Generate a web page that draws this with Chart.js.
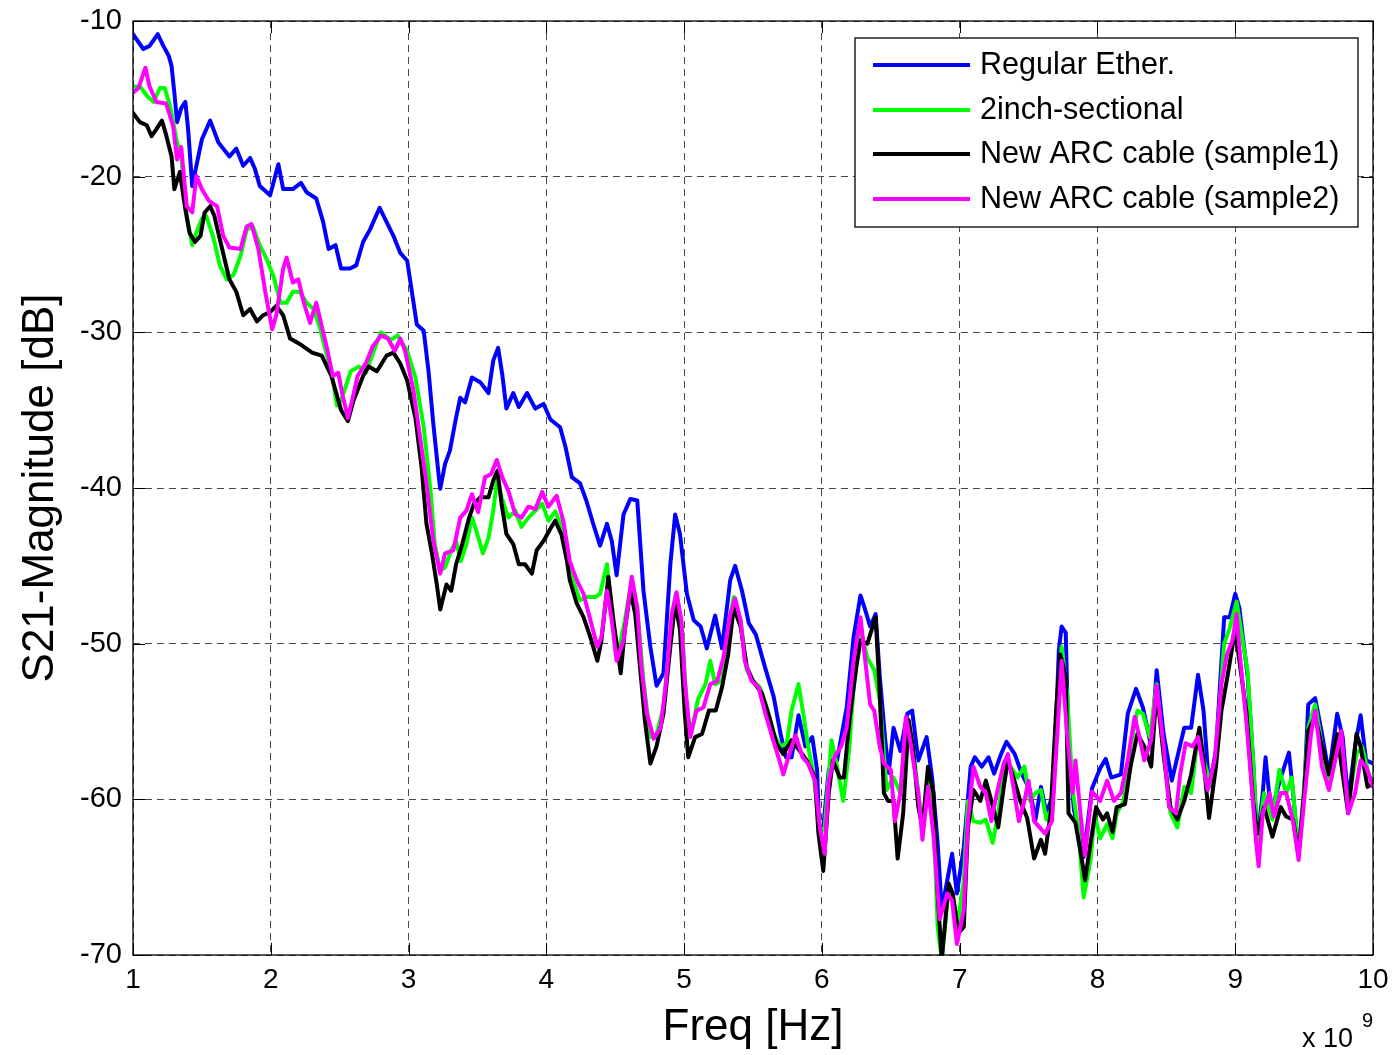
<!DOCTYPE html>
<html>
<head>
<meta charset="utf-8">
<title>S21 Magnitude</title>
<script src="https://cdn.jsdelivr.net/npm/chart.js@4.4.1/dist/chart.umd.min.js"></script>
<style>
    html, body { margin: 0; padding: 0; background: #fff; }
    #s21-chart { display: block; }
</style>
</head>
<body>
<canvas id="s21-chart" width="1393" height="1055"></canvas>
<script>
    "use strict";

    // Axis ticks
    var freqTicks = [1, 2, 3, 4, 5, 6, 7, 8, 9, 10];
    var magTicks = [-70, -60, -50, -40, -30, -20, -10];

    // Regular Ether.
    var blueFreq = [1.00, 1.075, 1.12, 1.18, 1.22, 1.26, 1.28, 1.30, 1.32, 1.35, 1.38, 1.40, 1.43, 1.46, 1.50, 1.56, 1.62, 1.655, 1.70, 1.75, 1.80, 1.85, 1.885, 1.92, 1.995, 2.055, 2.09, 2.16, 2.22, 2.26, 2.33, 2.38, 2.42, 2.47, 2.51, 2.575, 2.62, 2.67, 2.72, 2.79, 2.84, 2.89, 2.94, 2.99, 3.06, 3.11, 3.145, 3.18, 3.22, 3.23, 3.265, 3.30, 3.34, 3.375, 3.41, 3.46, 3.52, 3.58, 3.615, 3.65, 3.68, 3.71, 3.76, 3.80, 3.86, 3.92, 3.98, 4.03, 4.10, 4.14, 4.185, 4.245, 4.29, 4.34, 4.39, 4.44, 4.475, 4.51, 4.56, 4.61, 4.66, 4.705, 4.755, 4.80, 4.85, 4.90, 4.935, 4.97, 5.02, 5.07, 5.12, 5.165, 5.225, 5.275, 5.335, 5.37, 5.42, 5.47, 5.52, 5.58, 5.65, 5.70, 5.74, 5.78, 5.83, 5.88, 5.93, 5.965, 5.98, 6.01, 6.05, 6.11, 6.18, 6.23, 6.28, 6.31, 6.35, 6.39, 6.42, 6.46, 6.485, 6.52, 6.57, 6.62, 6.655, 6.70, 6.76, 6.80, 6.84, 6.87, 6.91, 6.945, 6.98, 7.03, 7.08, 7.11, 7.16, 7.21, 7.25, 7.30, 7.34, 7.40, 7.45, 7.51, 7.55, 7.59, 7.63, 7.68, 7.72, 7.74, 7.77, 7.79, 7.83, 7.87, 7.90, 7.96, 8.02, 8.06, 8.10, 8.17, 8.22, 8.28, 8.33, 8.39, 8.43, 8.48, 8.54, 8.63, 8.68, 8.73, 8.77, 8.81, 8.86, 8.92, 8.96, 9.00, 9.03, 9.09, 9.13, 9.16, 9.20, 9.22, 9.26, 9.33, 9.39, 9.42, 9.46, 9.50, 9.53, 9.58, 9.63, 9.68, 9.74, 9.78, 9.82, 9.87, 9.91, 9.95, 10.0];
    var blueMag = [-10.85, -11.8, -11.6, -10.85, -11.6, -12.25, -12.9, -14.6, -16.5, -15.6, -15.2, -16.95, -20.6, -19.3, -17.6, -16.4, -17.8, -18.2, -18.7, -18.2, -19.3, -18.8, -19.5, -20.6, -21.2, -19.2, -20.8, -20.8, -20.4, -21.0, -21.4, -22.9, -24.65, -24.4, -25.9, -25.9, -25.7, -24.2, -23.4, -22.0, -22.9, -23.8, -24.9, -25.4, -29.5, -29.9, -32.5, -35.9, -39.3, -40.05, -38.45, -37.6, -35.7, -34.2, -34.5, -32.9, -33.2, -33.9, -31.8, -31.0, -32.7, -34.9, -33.9, -34.8, -33.9, -34.9, -34.6, -35.6, -36.1, -37.4, -39.3, -39.7, -40.8, -42.3, -43.7, -42.3, -43.4, -45.6, -41.7, -40.7, -40.8, -46.6, -50.2, -52.7, -51.9, -44.9, -41.7, -42.95, -46.8, -48.5, -48.9, -50.3, -48.2, -50.3, -45.9, -45.0, -46.6, -48.7, -49.4, -51.3, -53.4, -55.8, -57.3, -57.3, -54.6, -56.6, -56.0, -58.1, -61.8, -61.8, -58.1, -57.5, -54.1, -49.6, -46.9, -47.7, -48.9, -48.1, -52.1, -56.2, -58.3, -55.4, -56.9, -54.5, -54.3, -57.5, -56.0, -58.6, -62.8, -67.1, -65.2, -63.5, -66.05, -63.06, -57.9, -57.3, -57.9, -57.3, -58.35, -57.1, -56.3, -57.1, -58.35, -59.4, -61.3, -59.2, -60.9, -59.6, -50.4, -48.9, -49.3, -56.6, -60.7, -62.2, -63.7, -59.3, -58.0, -57.4, -58.6, -58.4, -54.5, -52.9, -54.1, -56.6, -51.7, -55.8, -58.8, -55.4, -55.4, -52.0, -54.3, -59.2, -56.9, -48.3, -48.3, -46.8, -47.7, -52.1, -57.5, -62.6, -59.6, -57.3, -60.9, -58.6, -57.0, -59.6, -63.5, -59.6, -53.9, -53.5, -55.8, -58.4, -54.5, -56.0, -60.1, -56.6, -54.6, -57.5, -57.7];

    // 2inch-sectional
    var greenFreq = [1.00, 1.05, 1.10, 1.15, 1.195, 1.23, 1.27, 1.32, 1.35, 1.39, 1.43, 1.46, 1.50, 1.53, 1.58, 1.63, 1.68, 1.73, 1.78, 1.825, 1.87, 1.92, 1.97, 2.02, 2.07, 2.115, 2.16, 2.21, 2.26, 2.31, 2.36, 2.39, 2.44, 2.48, 2.51, 2.58, 2.64, 2.69, 2.76, 2.80, 2.87, 2.92, 2.99, 3.05, 3.11, 3.16, 3.19, 3.23, 3.265, 3.31, 3.345, 3.38, 3.42, 3.46, 3.49, 3.54, 3.58, 3.615, 3.645, 3.675, 3.725, 3.775, 3.82, 3.87, 3.92, 3.97, 4.015, 4.065, 4.11, 4.15, 4.195, 4.245, 4.295, 4.355, 4.39, 4.44, 4.475, 4.52, 4.57, 4.62, 4.66, 4.705, 4.755, 4.80, 4.85, 4.90, 4.94, 4.985, 5.02, 5.055, 5.10, 5.155, 5.19, 5.225, 5.275, 5.32, 5.36, 5.41, 5.455, 5.50, 5.55, 5.60, 5.65, 5.70, 5.745, 5.78, 5.83, 5.865, 5.90, 5.94, 5.985, 6.02, 6.07, 6.11, 6.155, 6.20, 6.23, 6.28, 6.33, 6.38, 6.42, 6.47, 6.52, 6.57, 6.61, 6.66, 6.70, 6.73, 6.77, 6.81, 6.84, 6.87, 6.92, 6.95, 6.99, 7.03, 7.06, 7.10, 7.15, 7.19, 7.24, 7.28, 7.33, 7.37, 7.42, 7.47, 7.51, 7.55, 7.59, 7.63, 7.67, 7.71, 7.74, 7.78, 7.82, 7.86, 7.90, 7.95, 7.98, 8.02, 8.07, 8.11, 8.14, 8.19, 8.24, 8.29, 8.33, 8.38, 8.43, 8.48, 8.53, 8.58, 8.63, 8.68, 8.73, 8.77, 8.83, 8.86, 8.92, 8.96, 9.01, 9.04, 9.09, 9.13, 9.16, 9.21, 9.27, 9.32, 9.37, 9.41, 9.46, 9.50, 9.53, 9.58, 9.63, 9.68, 9.74, 9.78, 9.82, 9.88, 9.92, 9.97, 10.0];
    var greenMag = [-14.2, -14.2, -14.8, -15.2, -14.3, -14.3, -15.5, -17.8, -18.7, -22.5, -24.4, -23.6, -22.7, -22.5, -23.8, -25.7, -26.6, -26.3, -25.1, -23.4, -23.2, -24.4, -25.3, -26.4, -28.1, -28.1, -27.4, -27.4, -28.1, -28.5, -29.8, -30.9, -32.5, -34.7, -34.4, -32.5, -32.2, -32.6, -30.9, -30.0, -30.5, -30.2, -31.2, -32.9, -36.1, -40.2, -43.6, -45.3, -45.1, -44.0, -43.4, -44.7, -43.6, -41.9, -42.7, -44.2, -43.2, -41.45, -39.3, -40.6, -41.9, -41.45, -42.5, -41.9, -41.45, -41.0, -42.1, -41.5, -42.5, -44.0, -46.0, -47.2, -47.0, -47.0, -46.8, -44.9, -48.1, -50.7, -48.5, -45.9, -47.7, -52.4, -56.0, -55.8, -54.1, -49.4, -46.8, -48.9, -54.5, -55.6, -53.6, -52.6, -51.1, -52.6, -52.4, -49.1, -47.0, -48.5, -51.7, -52.4, -52.8, -54.1, -55.8, -56.6, -56.4, -54.3, -52.6, -54.5, -56.6, -58.4, -62.2, -61.8, -56.2, -57.9, -60.1, -56.6, -52.8, -49.1, -50.9, -51.7, -53.6, -59.4, -58.6, -59.6, -55.4, -56.6, -59.6, -61.8, -58.6, -60.9, -68.2, -70.3, -65.8, -66.5, -67.8, -65.2, -60.1, -61.4, -61.5, -61.3, -62.8, -60.9, -57.5, -57.9, -58.6, -57.9, -60.1, -59.6, -59.4, -61.3, -60.5, -54.3, -50.2, -53.2, -59.4, -61.8, -66.3, -63.9, -61.0, -62.5, -61.6, -62.5, -60.9, -60.1, -56.6, -54.3, -54.5, -56.0, -52.6, -57.1, -60.9, -61.8, -59.2, -59.6, -55.8, -57.5, -59.2, -57.1, -50.0, -49.0, -47.3, -49.0, -51.8, -57.5, -62.8, -59.6, -61.3, -58.1, -59.6, -58.6, -63.5, -59.2, -55.4, -53.9, -56.6, -59.0, -55.8, -57.9, -60.3, -57.1, -56.6, -58.4, -59.0];

    // New ARC cable (sample1)
    var blackFreq = [1.00, 1.05, 1.10, 1.135, 1.17, 1.21, 1.24, 1.28, 1.30, 1.34, 1.38, 1.41, 1.45, 1.49, 1.52, 1.56, 1.59, 1.63, 1.67, 1.70, 1.75, 1.80, 1.85, 1.90, 1.945, 1.995, 2.04, 2.09, 2.14, 2.22, 2.30, 2.37, 2.44, 2.51, 2.56, 2.60, 2.67, 2.71, 2.77, 2.84, 2.89, 2.94, 2.99, 3.05, 3.095, 3.13, 3.17, 3.205, 3.23, 3.275, 3.31, 3.345, 3.39, 3.44, 3.475, 3.52, 3.58, 3.615, 3.645, 3.675, 3.71, 3.76, 3.80, 3.845, 3.895, 3.93, 3.98, 4.03, 4.065, 4.11, 4.15, 4.17, 4.22, 4.27, 4.32, 4.37, 4.40, 4.45, 4.49, 4.54, 4.57, 4.61, 4.645, 4.68, 4.715, 4.755, 4.80, 4.85, 4.90, 4.935, 4.97, 5.005, 5.03, 5.08, 5.13, 5.18, 5.23, 5.275, 5.32, 5.36, 5.41, 5.455, 5.50, 5.565, 5.625, 5.67, 5.72, 5.78, 5.84, 5.89, 5.95, 5.975, 6.01, 6.05, 6.08, 6.13, 6.16, 6.20, 6.25, 6.28, 6.33, 6.39, 6.42, 6.45, 6.48, 6.52, 6.55, 6.59, 6.63, 6.66, 6.70, 6.73, 6.77, 6.81, 6.84, 6.87, 6.92, 6.95, 6.99, 7.03, 7.06, 7.10, 7.15, 7.19, 7.23, 7.28, 7.32, 7.35, 7.39, 7.44, 7.49, 7.54, 7.59, 7.62, 7.66, 7.70, 7.73, 7.77, 7.79, 7.84, 7.88, 7.91, 7.95, 7.99, 8.04, 8.07, 8.11, 8.14, 8.20, 8.24, 8.29, 8.34, 8.39, 8.43, 8.48, 8.53, 8.58, 8.63, 8.68, 8.74, 8.77, 8.81, 8.86, 8.90, 8.94, 9.00, 9.03, 9.08, 9.13, 9.16, 9.21, 9.27, 9.33, 9.37, 9.42, 9.46, 9.50, 9.53, 9.58, 9.63, 9.68, 9.74, 9.78, 9.82, 9.88, 9.91, 9.96, 10.0];
    var blackMag = [-15.9, -16.5, -16.7, -17.4, -16.95, -16.4, -17.3, -18.7, -20.8, -19.7, -22.1, -23.6, -24.2, -23.8, -22.3, -21.9, -22.5, -24.0, -25.5, -26.6, -27.4, -28.9, -28.5, -29.3, -28.9, -28.7, -28.3, -28.9, -30.4, -30.8, -31.3, -31.5, -32.8, -35.0, -35.7, -34.4, -32.8, -32.2, -32.5, -31.5, -31.3, -32.0, -33.1, -35.5, -38.7, -42.3, -44.2, -46.2, -47.8, -46.2, -46.6, -44.9, -43.6, -41.9, -41.0, -40.6, -40.6, -39.5, -38.9, -41.0, -42.95, -43.6, -44.9, -44.9, -45.5, -44.0, -43.4, -42.6, -42.1, -43.0, -44.7, -45.9, -47.4, -48.3, -49.6, -51.1, -49.8, -45.7, -48.7, -51.9, -49.1, -46.6, -48.1, -51.5, -54.9, -57.7, -56.6, -54.5, -50.2, -47.4, -49.1, -54.5, -57.3, -56.0, -55.8, -54.3, -54.3, -52.8, -50.7, -47.7, -48.9, -51.5, -52.4, -53.2, -54.9, -56.4, -57.1, -56.2, -56.9, -57.5, -58.6, -62.2, -64.6, -59.6, -57.5, -58.6, -58.6, -54.9, -51.5, -49.8, -50.0, -48.3, -53.2, -59.6, -60.1, -60.1, -63.8, -60.9, -54.9, -56.6, -60.5, -61.8, -57.9, -59.6, -66.05, -70.3, -65.4, -66.05, -68.6, -68.2, -61.8, -59.4, -60.1, -58.8, -60.1, -61.8, -59.2, -57.5, -58.6, -60.1, -61.2, -63.8, -62.6, -63.5, -60.9, -54.3, -50.7, -52.1, -60.9, -61.5, -63.5, -65.2, -62.8, -60.5, -61.3, -60.9, -62.1, -60.5, -60.3, -57.9, -55.8, -56.6, -57.9, -53.0, -57.1, -60.5, -61.3, -60.1, -58.4, -55.4, -57.5, -61.2, -57.9, -54.3, -52.3, -49.1, -51.1, -54.3, -60.1, -62.2, -60.5, -62.4, -60.5, -61.1, -61.3, -63.5, -59.6, -55.6, -54.7, -56.6, -58.4, -55.8, -58.4, -60.9, -55.8, -56.6, -59.2, -59.0];

    // New ARC cable (sample2)
    var magentaFreq = [1.00, 1.04, 1.09, 1.12, 1.17, 1.24, 1.29, 1.32, 1.35, 1.39, 1.43, 1.46, 1.50, 1.55, 1.61, 1.655, 1.70, 1.78, 1.825, 1.86, 1.91, 1.96, 2.01, 2.04, 2.09, 2.115, 2.16, 2.20, 2.24, 2.285, 2.33, 2.37, 2.405, 2.45, 2.49, 2.52, 2.56, 2.60, 2.63, 2.69, 2.74, 2.80, 2.85, 2.90, 2.94, 2.975, 3.035, 3.08, 3.13, 3.18, 3.23, 3.265, 3.325, 3.375, 3.42, 3.46, 3.505, 3.555, 3.60, 3.64, 3.68, 3.725, 3.775, 3.82, 3.87, 3.92, 3.97, 4.015, 4.075, 4.125, 4.17, 4.22, 4.27, 4.32, 4.37, 4.40, 4.44, 4.475, 4.51, 4.56, 4.62, 4.66, 4.69, 4.73, 4.78, 4.83, 4.87, 4.91, 4.945, 4.98, 5.005, 5.045, 5.09, 5.14, 5.19, 5.24, 5.285, 5.335, 5.37, 5.41, 5.44, 5.49, 5.54, 5.59, 5.64, 5.685, 5.72, 5.77, 5.81, 5.86, 5.90, 5.95, 5.985, 6.02, 6.05, 6.09, 6.14, 6.18, 6.23, 6.28, 6.31, 6.35, 6.38, 6.42, 6.45, 6.50, 6.53, 6.57, 6.61, 6.64, 6.70, 6.73, 6.77, 6.81, 6.855, 6.91, 6.945, 6.98, 7.03, 7.06, 7.10, 7.15, 7.19, 7.23, 7.27, 7.32, 7.35, 7.39, 7.43, 7.47, 7.50, 7.54, 7.58, 7.62, 7.67, 7.71, 7.74, 7.78, 7.82, 7.84, 7.88, 7.91, 7.96, 8.02, 8.07, 8.12, 8.17, 8.22, 8.27, 8.30, 8.34, 8.39, 8.43, 8.48, 8.52, 8.57, 8.60, 8.64, 8.69, 8.73, 8.76, 8.80, 8.85, 8.90, 8.94, 8.98, 9.01, 9.04, 9.08, 9.12, 9.15, 9.17, 9.20, 9.25, 9.28, 9.33, 9.37, 9.42, 9.46, 9.50, 9.55, 9.58, 9.63, 9.68, 9.74, 9.77, 9.82, 9.87, 9.91, 9.95, 10.0];
    var magentaMag = [-14.6, -14.3, -13.0, -14.2, -15.2, -15.3, -16.7, -18.9, -18.1, -21.9, -22.3, -19.95, -20.8, -21.55, -21.9, -23.8, -24.55, -24.65, -23.2, -23.05, -24.65, -27.4, -29.8, -28.9, -25.9, -25.2, -26.8, -26.6, -28.1, -29.4, -28.1, -29.6, -30.9, -32.8, -32.6, -34.0, -35.5, -34.0, -32.8, -32.0, -30.9, -30.2, -30.4, -31.2, -30.4, -31.2, -33.7, -36.5, -39.7, -43.4, -45.5, -44.2, -44.0, -41.9, -41.45, -40.4, -41.55, -39.3, -39.1, -38.2, -39.3, -40.2, -41.7, -41.9, -41.2, -41.35, -40.25, -41.2, -40.5, -42.2, -44.7, -45.9, -46.8, -48.5, -50.2, -49.6, -46.6, -48.5, -51.1, -49.8, -45.7, -47.7, -51.5, -54.5, -56.1, -55.4, -52.4, -48.1, -46.7, -48.5, -52.4, -56.0, -54.3, -54.1, -52.6, -52.4, -50.9, -48.1, -47.1, -48.5, -51.1, -52.4, -52.8, -54.5, -56.0, -57.3, -58.4, -56.9, -55.9, -57.3, -57.7, -58.8, -61.8, -63.5, -58.8, -57.3, -56.6, -55.4, -51.1, -48.3, -50.7, -53.9, -54.3, -56.6, -57.7, -58.1, -61.4, -59.6, -54.7, -56.2, -59.6, -62.6, -59.2, -62.3, -67.7, -66.05, -66.5, -69.3, -67.1, -61.4, -57.9, -59.2, -59.6, -61.4, -59.6, -57.7, -57.1, -59.2, -61.4, -60.1, -58.8, -61.4, -61.8, -62.2, -61.4, -55.6, -51.1, -55.8, -59.6, -57.5, -61.2, -63.6, -59.5, -60.1, -58.8, -60.1, -59.6, -57.5, -54.7, -55.8, -57.5, -56.2, -52.7, -56.6, -60.5, -60.9, -58.4, -56.4, -56.6, -56.0, -57.5, -59.4, -57.5, -52.6, -50.7, -49.8, -48.1, -51.3, -54.9, -59.2, -62.6, -64.3, -60.9, -59.6, -61.1, -59.6, -59.6, -61.4, -63.9, -60.1, -55.8, -54.3, -57.9, -59.4, -56.9, -55.6, -60.9, -59.6, -57.5, -57.9, -59.2];

    var FONT = "Arial, 'Liberation Sans', Helvetica, sans-serif";
    var LINE_W = 4;

    var toPoints = function (xs, ys) {
        return xs.map(function (x, i) {
            return {x: x, y: ys[i]};
        });
    };

    var makeSeries = function (label, color, xs, ys, order) {
        return {
            label: label,
            data: toPoints(xs, ys),
            borderColor: color,
            backgroundColor: color,
            borderWidth: LINE_W,
            borderJoinStyle: "round",
            borderCapStyle: "round",
            pointRadius: 0,
            tension: 0,
            fill: false,
            order: order
        };
    };

    // Box, inward ticks, legend and the x 10^9 exponent
    var matlabFrame = {
        id: "matlabFrame",
        afterDraw: function (chart) {
            var ctx = chart.ctx;
            var a = chart.chartArea;
            var xs = chart.scales.x;
            var ys = chart.scales.y;
            var tick = 12;

            ctx.save();
            ctx.strokeStyle = "#000";
            ctx.lineWidth = 1.3;
            ctx.strokeRect(a.left, a.top, a.right - a.left, a.bottom - a.top);

            ctx.lineWidth = 1;
            ctx.beginPath();
            freqTicks.forEach(function (v) {
                var px = Math.round(xs.getPixelForValue(v)) + 0.5;
                ctx.moveTo(px, a.bottom);
                ctx.lineTo(px, a.bottom - tick);
                ctx.moveTo(px, a.top);
                ctx.lineTo(px, a.top + tick);
            });
            magTicks.forEach(function (v) {
                var py = Math.round(ys.getPixelForValue(v)) + 0.5;
                ctx.moveTo(a.left, py);
                ctx.lineTo(a.left + tick, py);
                ctx.moveTo(a.right, py);
                ctx.lineTo(a.right - tick, py);
            });
            ctx.stroke();

            // Legend
            var lx = 855, ly = 38, lw = 503, lh = 189;
            ctx.fillStyle = "#fff";
            ctx.fillRect(lx, ly, lw, lh);
            ctx.lineWidth = 1.3;
            ctx.strokeStyle = "#000";
            ctx.strokeRect(lx, ly, lw, lh);

            var rows = [65, 110, 154, 199];
            ctx.font = "30.5px " + FONT;
            ctx.textBaseline = "middle";
            ctx.textAlign = "left";
            chart.data.datasets.forEach(function (ds, i) {
                ctx.strokeStyle = ds.borderColor;
                ctx.lineWidth = LINE_W;
                ctx.beginPath();
                ctx.moveTo(873, rows[i]);
                ctx.lineTo(970, rows[i]);
                ctx.stroke();
                ctx.fillStyle = "#000";
                ctx.fillText(ds.label, 980, rows[i] + 1);
            });

            // Exponent label
            ctx.fillStyle = "#000";
            ctx.textBaseline = "alphabetic";
            ctx.font = "27px " + FONT;
            ctx.fillText("x 10", 1302, 1047);
            ctx.font = "20px " + FONT;
            ctx.fillText("9", 1362, 1027);
            ctx.restore();
        }
    };

    // Line Chart - S21 magnitude
    var ctx1 = document.getElementById("s21-chart").getContext("2d");
    var myChart1 = new Chart(ctx1, {
        type: "line",
        data: {
            datasets: [
                makeSeries("Regular Ether.", "#0000ff", blueFreq, blueMag, 4),
                makeSeries("2inch-sectional", "#00ff00", greenFreq, greenMag, 3),
                makeSeries("New ARC cable (sample1)", "#000000", blackFreq, blackMag, 2),
                makeSeries("New ARC cable (sample2)", "#ff00ff", magentaFreq, magentaMag, 1)
            ]
        },
        options: {
            responsive: false,
            animation: false,
            devicePixelRatio: 1,
            layout: {
                autoPadding: false,
                padding: {left: 0, right: 20, top: 21, bottom: 0}
            },
            plugins: {
                legend: {display: false},
                tooltip: {enabled: false}
            },
            scales: {
                x: {
                    type: "linear",
                    min: 1,
                    max: 10,
                    afterBuildTicks: function (scale) {
                        scale.ticks = freqTicks.map(function (v) { return {value: v}; });
                    },
                    afterFit: function (scale) {
                        scale.height = 100;
                        scale.paddingLeft = 0;
                        scale.paddingRight = 0;
                    },
                    ticks: {
                        color: "#000",
                        font: {family: FONT, size: 28},
                        padding: 8,
                        maxRotation: 0
                    },
                    grid: {
                        color: "#4a4a4a",
                        lineWidth: 1,
                        drawTicks: false
                    },
                    border: {display: false, dash: [7, 5]},
                    title: {
                        display: true,
                        text: "Freq [Hz]",
                        color: "#000",
                        font: {family: FONT, size: 44},
                        padding: {top: 0, bottom: 1}
                    }
                },
                y: {
                    type: "linear",
                    min: -70,
                    max: -10,
                    afterBuildTicks: function (scale) {
                        scale.ticks = magTicks.map(function (v) { return {value: v}; });
                    },
                    afterFit: function (scale) {
                        scale.width = 133;
                        scale.paddingTop = 0;
                        scale.paddingBottom = 0;
                    },
                    ticks: {
                        color: "#000",
                        font: {family: FONT, size: 29},
                        padding: 11
                    },
                    grid: {
                        color: "#4a4a4a",
                        lineWidth: 1,
                        drawTicks: false
                    },
                    border: {display: false, dash: [7, 5]},
                    title: {
                        display: true,
                        text: "S21-Magnitude [dB]",
                        color: "#000",
                        font: {family: FONT, size: 44},
                        padding: {top: 14, bottom: 0}
                    }
                }
            }
        },
        plugins: [matlabFrame]
    });
</script>
</body>
</html>
